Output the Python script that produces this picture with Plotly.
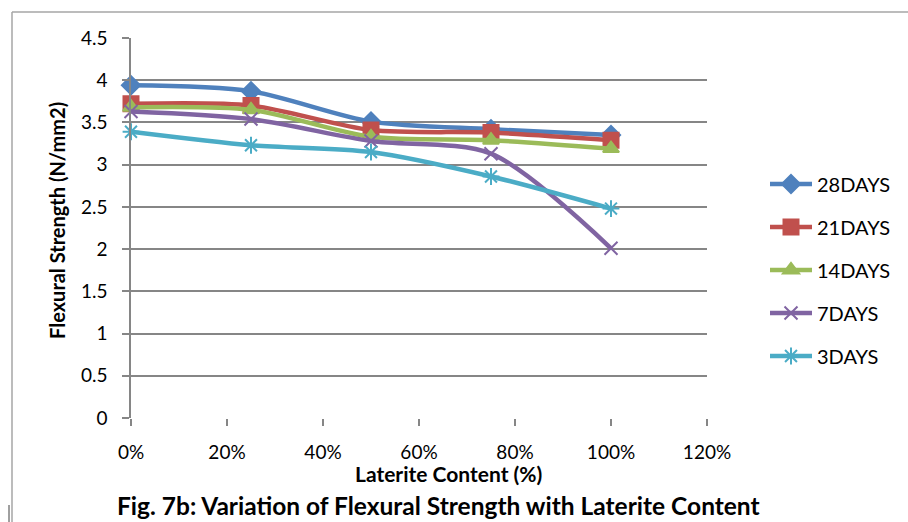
import plotly.graph_objects as go

laterite = [0.0, 0.25, 0.5, 0.75, 1.0]
series_names = ["28DAYS", "21DAYS", "14DAYS", "7DAYS", "3DAYS"]
days28 = [3.94, 3.87, 3.51, 3.42, 3.35]
days21 = [3.72, 3.70, 3.41, 3.38, 3.29]
days14 = [3.68, 3.65, 3.33, 3.29, 3.19]
days7 = [3.63, 3.54, 3.28, 3.13, 2.01]
days3 = [3.39, 3.23, 3.15, 2.86, 2.48]
values = [days28, days21, days14, days7, days3]
colors = ["#4F81BD", "#C0504D", "#9BBB59", "#8064A2", "#4BACC6"]
symbols = ["diamond", "square", "triangle-up", "x-thin-open", "asterisk-open"]
sizes = [14, 15, 14, 13, 14]

L, R, T, B = 131, 707, 38, 418
W, H = 908, 522


def px(x):
    return (x - L) / (R - L)


def py(y):
    return (B - y) / (B - T)


fig = go.Figure()
for name, vals, c, s, sz in zip(series_names, values, colors, symbols, sizes):
    fig.add_trace(go.Scatter(
        x=laterite, y=vals, name=name, legendgroup=name,
        mode="lines+markers",
        line=dict(color=c, width=4.5, shape="spline", smoothing=0.8),
        marker=dict(symbol=s, size=sz, color=c, line=dict(color=c, width=2)),
        cliponaxis=False,
    ))

font = "Lato, Calibri, Carlito, sans-serif"
fig.update_layout(
    width=W, height=H,
    margin=dict(l=L, r=W - R, t=T, b=H - B),
    paper_bgcolor="white", plot_bgcolor="white",
    font=dict(family=font, size=19, color="#000000"),
    showlegend=True,
    legend=dict(x=px(765), y=py(270), xanchor="left", yanchor="middle",
                font=dict(size=20, color="#000000"), tracegroupgap=14,
                itemwidth=42,
                bgcolor="rgba(0,0,0,0)"),
    xaxis=dict(range=[0, 1.2], dtick=0.2, tick0=0, tickformat=".0%",
               showgrid=False, zeroline=False, showline=False,
               ticks="outside", ticklen=7, tickcolor="#868686", tickwidth=1.5,
               ticklabelstandoff=10,
               tickfont=dict(size=19, color="#000000")),
    yaxis=dict(range=[0, 4.5], dtick=0.5, tick0=0,
               showgrid=True, gridcolor="#868686", gridwidth=1.5,
               zeroline=False, showline=True, linecolor="#868686", linewidth=1.5,
               ticks="outside", ticklen=7, tickcolor="#868686", tickwidth=1.5,
               ticklabelstandoff=11,
               tickfont=dict(size=19, color="#000000")),
    annotations=[
        dict(text="<b>Laterite Content (%)</b>", x=px(448), y=py(473),
             xref="paper", yref="paper", showarrow=False,
             xanchor="center", yanchor="middle", font=dict(size=21)),
        dict(text="<b>Fig. 7b: Variation of Flexural Strength with Laterite Content</b>",
             x=px(438), y=py(505), xref="paper", yref="paper", showarrow=False,
             xanchor="center", yanchor="middle", font=dict(size=24.5)),
        dict(text="<b>Flexural Strength (N/mm2)</b>", x=px(57), y=py(221),
             xref="paper", yref="paper", showarrow=False, textangle=-90,
             xanchor="center", yanchor="middle", font=dict(size=20)),
    ],
    shapes=[
        dict(type="line", xref="paper", yref="paper", x0=px(12), x1=px(908),
             y0=py(12), y1=py(12), line=dict(color="#a6a6a6", width=1.5)),
        dict(type="line", xref="paper", yref="paper", x0=px(12), x1=px(12),
             y0=py(12), y1=py(522), line=dict(color="#a6a6a6", width=1.5)),
        dict(type="line", xref="paper", yref="paper", x0=px(9), x1=px(9),
             y0=py(505), y1=py(522), line=dict(color="#404040", width=1)),
    ],
)

fig.write_html("out.html")
